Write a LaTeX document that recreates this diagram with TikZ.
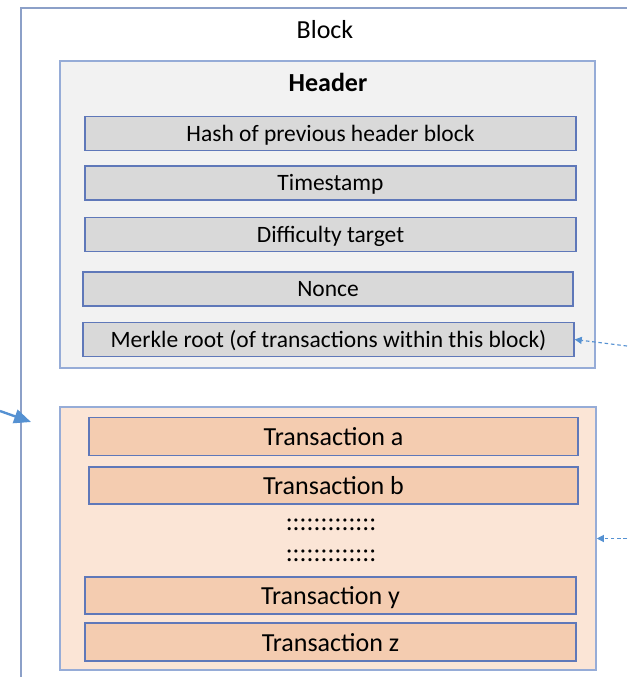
\documentclass[tikz,border=0pt]{standalone}
\usepackage{fontspec}
\setmainfont{Carlito}
\usetikzlibrary{arrows.meta}

\definecolor{frameline}{RGB}{140,160,200}
\definecolor{hdrfill}{RGB}{242,242,242}
\definecolor{hdrline}{RGB}{150,172,215}
\definecolor{fieldfill}{RGB}{217,217,217}
\definecolor{fieldline}{RGB}{95,120,185}
\definecolor{txsfill}{RGB}{251,229,214}
\definecolor{txfill}{RGB}{244,204,176}
\definecolor{linkblue}{RGB}{85,145,210}

\tikzset{
  bigbox/.style={line width=1pt, inner sep=0pt},
  field/.style={draw=fieldline, fill=fieldfill, line width=.9pt, inner sep=0pt, minimum width=12.275cm, minimum height=.85cm, text height=13pt, text depth=2.2pt, font=\fontsize{16.7}{20}\selectfont},
  tx/.style={draw=fieldline, fill=txfill, line width=.9pt, inner sep=0pt, minimum width=12.25cm, minimum height=.95cm, text height=15.5pt, text depth=2.5pt, font=\fontsize{18.5}{22}\selectfont},
  title/.style={inner sep=0pt, font=\fontsize{18.5}{22}\selectfont},
  link/.style={linkblue, line width=.8pt, dash pattern=on 2.5pt off 2pt, -{Triangle[length=5pt,width=5pt]}}
}

\begin{document}
\begin{tikzpicture}[x=.025cm, y=-.025cm]
\useasboundingbox (0,0) rectangle (627,677);

% the block itself runs past the page on the right and bottom
\draw[frameline, line width=1.1pt] (21,677) |- (627,8);
\node[title] (block) at (325,30) {Block};

% header part
\node[bigbox, draw=hdrline, fill=hdrfill, minimum width=13.375cm, minimum height=7.675cm] (header) at (327.5,214.5) {};
\node[title, font=\fontsize{18.5}{22}\selectfont\bfseries] (hdrlabel) at (328,82) {Header};
\node[field] (prevhash) at (330.5,133.5) {Hash of previous header block};
\node[field] (timestamp) at (330.5,183) {Timestamp};
\node[field] (difficulty) at (330.5,234.5) {Difficulty target};
\node[field, minimum width=12.25cm] (nonce) at (328,289) {Nonce};
\node[field] (merkle) at (328.5,339.5) {Merkle root (of transactions within this block)};

% transaction list
\node[bigbox, draw=hdrline, fill=txsfill, minimum width=13.4cm, minimum height=6.575cm] (txs) at (328,538.5) {};
\node[tx, minimum width=12.225cm] (txa) at (333.5,436.5) {Transaction a};
\node[tx, minimum width=12.225cm, minimum height=.925cm] (txb) at (333.5,485.5) {Transaction b};
\node[title] (gapa) at (331,525) {:::::::::::::};
\node[title] (gapb) at (331,556) {:::::::::::::};
\node[tx, minimum width=12.275cm, minimum height=.925cm] (txy) at (330.5,595.5) {Transaction y};
\node[tx, minimum width=12.275cm] (txz) at (330.5,642) {Transaction z};

% links coming in from the neighbouring blocks
\coordinate (prevblock) at (0,411);
\coordinate (blockin) at (31,422);
\coordinate (merklein) at (627,346);
\coordinate (txsin) at (627,538.5);
\draw[linkblue, line width=1.7pt, -{Triangle[length=12pt,width=10pt]}] (prevblock) -- (blockin);
\draw[link] (merklein) -- (merkle.east);
\draw[link] (txsin) -- (txs.east);

\end{tikzpicture}
\end{document}
